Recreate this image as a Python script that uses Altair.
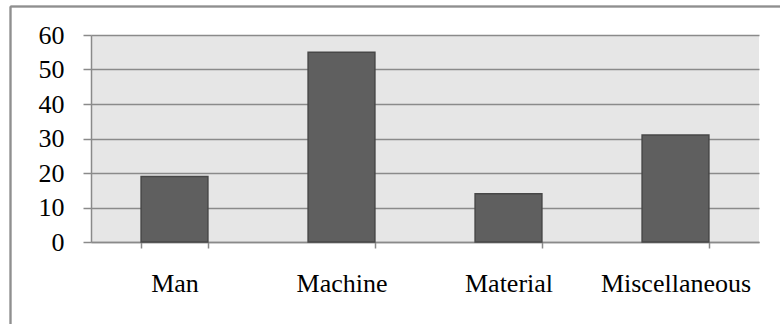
import altair as alt
import pandas as pd

categories = ["Man", "Machine", "Material", "Miscellaneous"]
values = [19, 55, 14, 31]
y_ticks = [0, 10, 20, 30, 40, 50, 60]

df = pd.DataFrame({"cat": categories, "val": values})

FONT = "Liberation Serif"
FS = 26

bars = alt.Chart(df).mark_bar(
    color="#5f5f5f", stroke="#474747", strokeWidth=1.5
).encode(
    x=alt.X("cat:N", sort=categories, title=None,
            scale=alt.Scale(paddingInner=0.6, paddingOuter=0.3),
            axis=alt.Axis(labelAngle=0, tickBand="extent", ticks=True, tickSize=6,
                          tickColor="#8a8a8a", tickWidth=1.5, domainColor="#8a8a8a",
                          domainWidth=1.5, grid=False, labelFont=FONT, labelFontSize=FS,
                          labelColor="#000000", labelBaseline="alphabetic",
                          labelPadding=43)),
    y=alt.Y("val:Q", title=None,
            scale=alt.Scale(domain=[0, 60], nice=False),
            axis=alt.Axis(values=y_ticks, tickSize=8, tickColor="#8a8a8a", tickWidth=1.5,
                          domainColor="#8a8a8a", domainWidth=1.5, gridColor="#8a8a8a",
                          gridWidth=1.5, labelFont=FONT, labelFontSize=FS,
                          labelColor="#000000", labelPadding=19)),
)

frame_left = alt.Chart(df).mark_rule(color="#8f8f8f", strokeWidth=1.5).encode(
    x=alt.value(-80.5), y=alt.value(-28.5), y2=alt.value(300)
)
frame_top = alt.Chart(df).mark_rule(color="#8f8f8f", strokeWidth=1.5).encode(
    x=alt.value(-80.5), x2=alt.value(700), y=alt.value(-28.5)
)

chart = alt.layer(bars, frame_left, frame_top).properties(
    width=668, height=207,
    autosize=alt.AutoSizeParams(type="none"),
    padding={"left": 91, "top": 35, "right": 21, "bottom": 82},
    background="#ffffff",
).configure_view(fill="#e6e6e6", stroke=None)

chart.save("out.html", embed_options={"renderer": "svg", "actions": False})
